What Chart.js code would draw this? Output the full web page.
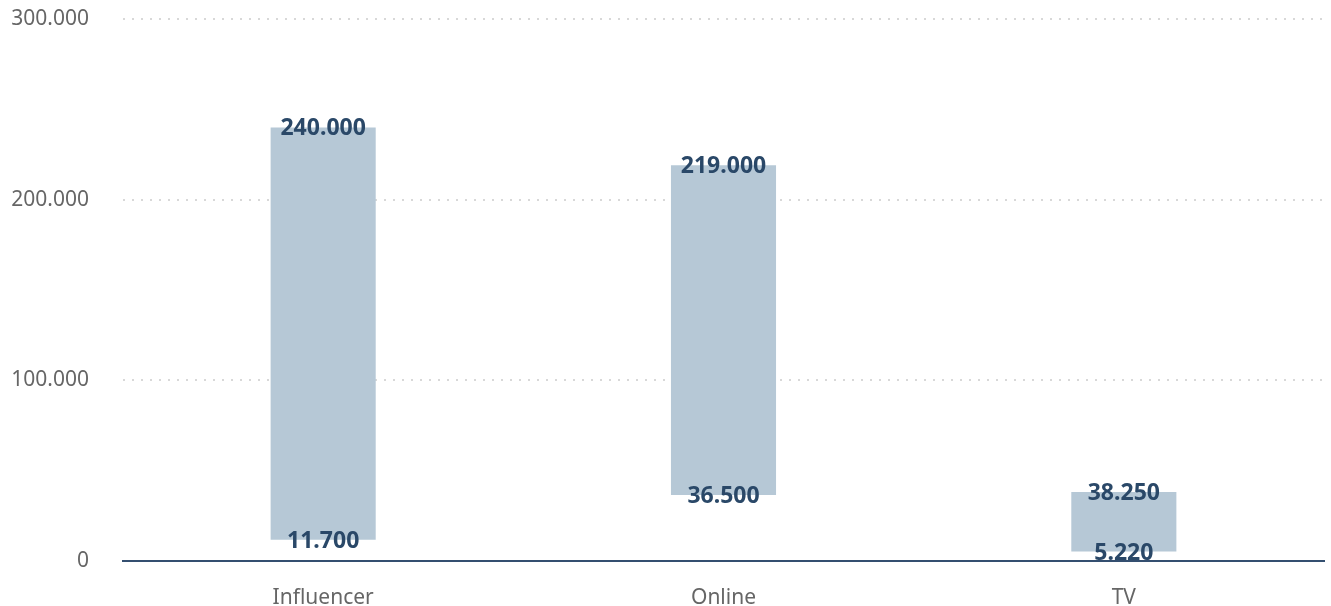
<!DOCTYPE html>
<html lang="de">
<head>
    <meta charset="UTF-8">
    <title>Spannweite je Kanal</title>
    <script src="https://cdn.jsdelivr.net/npm/chart.js@4.4.1/dist/chart.umd.min.js"></script>
    <style>
        html, body { margin: 0; padding: 0; background: #fff; overflow: hidden; }
        canvas { display: block; }
    </style>
</head>
<body>
    <canvas id="myChart" width="1331" height="606"></canvas>

    <script>
        const categories = ['Influencer', 'Online', 'TV'];
        const lowValues = [11700, 36500, 5220];
        const highValues = [240000, 219000, 38250];
        const yTicks = [0, 100000, 200000, 300000];

        function fmt(n) {
            return String(n).replace(/\B(?=(\d{3})+(?!\d))/g, '.');
        }

        // labels at both ends of every floating bar
        const endLabels = {
            id: 'endLabels',
            afterDatasetsDraw(chart) {
                const c = chart.ctx;
                const y = chart.scales.y;
                const meta = chart.getDatasetMeta(0);
                c.save();
                c.font = 'bold 23px "Noto Sans"';
                c.fillStyle = '#2a4868';
                c.textAlign = 'center';
                c.textBaseline = 'middle';
                meta.data.forEach((bar, i) => {
                    c.fillText(fmt(highValues[i]), bar.x, y.getPixelForValue(highValues[i]) + 1.5);
                    c.fillText(fmt(lowValues[i]), bar.x, y.getPixelForValue(lowValues[i]) + 1.5);
                });
                c.restore();
            }
        };

        const ctx = document.getElementById('myChart').getContext('2d');
        const chart = new Chart(ctx, {
            type: 'bar',
            data: {
                labels: categories,
                datasets: [{
                    data: categories.map((_, i) => [lowValues[i], highValues[i]]),
                    backgroundColor: '#b6c8d6',
                    borderWidth: 0,
                    barPercentage: 0.2625,
                    categoryPercentage: 1
                }]
            },
            options: {
                responsive: false,
                animation: false,
                devicePixelRatio: 1,
                layout: { padding: { left: 0, right: 7, top: 19, bottom: 0 } },
                plugins: {
                    legend: { display: false },
                    tooltip: { enabled: false }
                },
                scales: {
                    x: {
                        grid: { display: false, drawTicks: false },
                        border: { display: true, color: '#344f70', width: 2 },
                        ticks: {
                            color: '#666',
                            padding: 24,
                            font: { family: 'Noto Sans', size: 21 }
                        },
                        afterFit(scale) { scale.height = 45; }
                    },
                    y: {
                        min: 0,
                        max: 300000,
                        afterBuildTicks(scale) {
                            scale.ticks = yTicks.map(v => ({ value: v }));
                        },
                        grid: {
                            color: c => c.tick && c.tick.value === 0 ? 'rgba(0,0,0,0)' : '#d8d8d8',
                            lineWidth: 2,
                            drawTicks: false
                        },
                        border: { display: false, dash: [2, 7] },
                        ticks: {
                            color: '#666',
                            padding: 34,
                            font: { family: 'Noto Sans', size: 21 },
                            callback: v => fmt(v)
                        },
                        afterFit(scale) {
                            scale.width = 123;
                            scale.paddingTop = 0;
                            scale.paddingBottom = 0;
                        }
                    }
                }
            },
            plugins: [endLabels]
        });
    </script>
</body>
</html>
